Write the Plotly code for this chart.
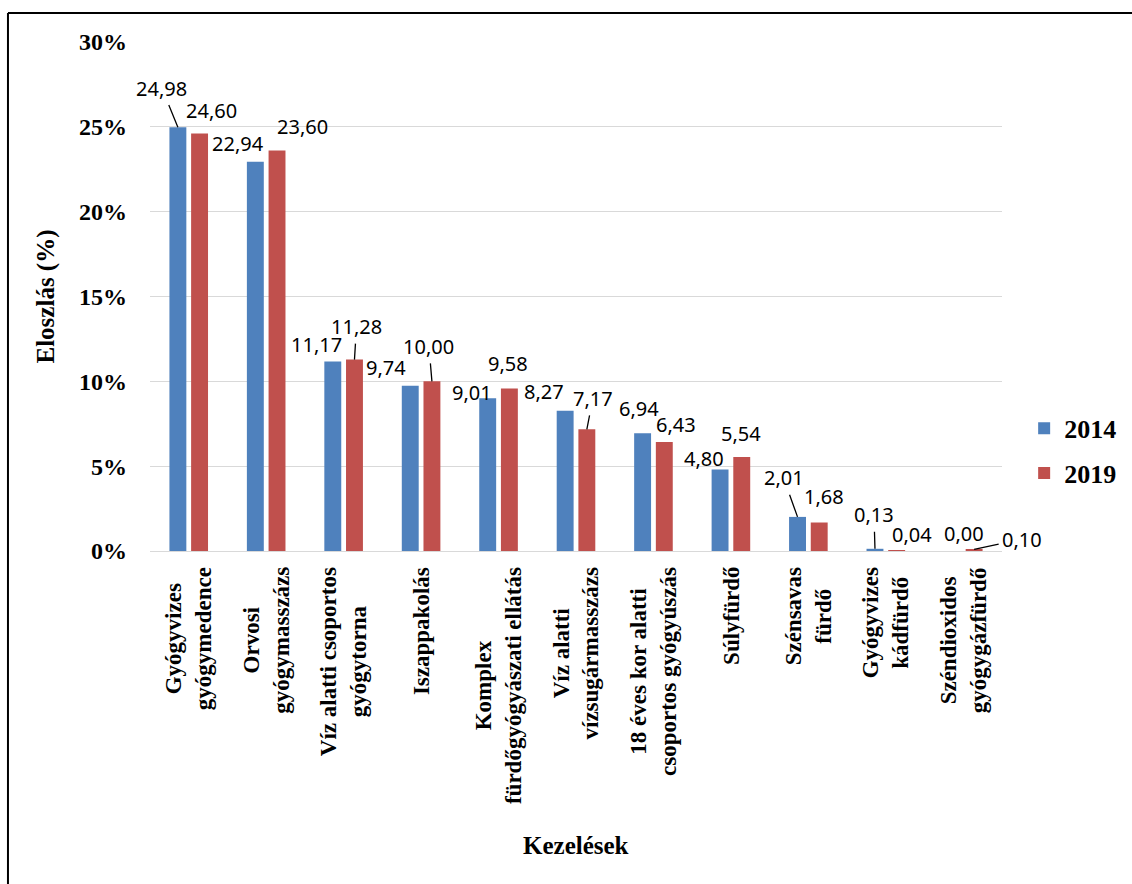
import plotly.graph_objects as go

# Treatment categories (two-line labels)
categories = [
    "Gyógyvizes<br>gyógymedence",
    "Orvosi<br>gyógymasszázs",
    "Víz alatti csoportos<br>gyógytorna",
    "Iszappakolás",
    "Komplex<br>fürdőgyógyászati ellátás",
    "Víz alatti<br>vízsugármasszázs",
    "18 éves kor alatti<br>csoportos gyógyúszás",
    "Súlyfürdő",
    "Szénsavas<br>fürdő",
    "Gyógyvizes<br>kádfürdő",
    "Széndioxidos<br>gyógygázfürdő",
]
years = ["2014", "2019"]
share_2014 = [24.98, 22.94, 11.17, 9.74, 9.01, 8.27, 6.94, 4.80, 2.01, 0.13, 0.00]
share_2019 = [24.60, 23.60, 11.28, 10.00, 9.58, 7.17, 6.43, 5.54, 1.68, 0.04, 0.10]
y_ticks = [0, 5, 10, 15, 20, 25, 30]
y_tick_labels = ["0%", "5%", "10%", "15%", "20%", "25%", "30%"]

series = [share_2014, share_2019]
colors = ["#4F81BD", "#C0504D"]

# Placement of the value labels (pixel offset from the top of each bar)
# and whether a leader line connects label and bar.
label_offsets = [
    [(-16, -39), (-17, -18), (-16, -17), (-24, -18), (-16, -6), (-21, -19),
     (-4, -25), (-16, -11), (-14, -39), (-1, -34), (12, -18)],
    [(12, -23), (25, -24), (2, -33), (-3, -35), (-1, -25), (6, -31),
     (12, -17), (-1, -24), (5, -26), (15, -16), (48, -10)],
]
leader = [
    [True, False, False, False, False, False, False, False, True, True, False],
    [False, False, True, True, False, True, False, False, False, False, True],
]

SERIF = "Liberation Serif"
LABEL_FONT = dict(family="Noto Sans", size=20, color="#000000")
BAR_SHIFT = 0.14  # half the distance between the two bars of a group

fig = go.Figure()
for name, vals, col in zip(years, series, colors):
    fig.add_trace(go.Bar(
        name=name,
        x=categories,
        y=vals,
        marker=dict(color=col, line=dict(width=0)),
        legendgroup=name,
    ))

annotations = []
for s, vals in enumerate(series):
    shift = -BAR_SHIFT if s == 0 else BAR_SHIFT
    for i, v in enumerate(vals):
        dx, dy = label_offsets[s][i]
        text = f"{v:.2f}".replace(".", ",")
        if leader[s][i]:
            annotations.append(dict(
                x=i + shift, y=v, xref="x", yref="y", text=text,
                showarrow=True, arrowhead=0, arrowwidth=1.3, arrowcolor="#000000",
                ax=dx, ay=dy, standoff=0, startstandoff=2, font=LABEL_FONT,
            ))
        else:
            annotations.append(dict(
                x=i + shift, y=v, xref="x", yref="y", text=text,
                showarrow=False, xshift=dx, yshift=-dy,
                xanchor="center", yanchor="middle", font=LABEL_FONT,
            ))

# Rotated, centre-aligned category labels under the axis
for i, cat in enumerate(categories):
    annotations.append(dict(
        x=i, y=0, xref="x", yref="paper", text=cat, textangle=-90,
        xanchor="center", yanchor="top", yshift=-14, align="center",
        showarrow=False, font=dict(family=SERIF, size=23, color="#000000", weight="bold"),
    ))

# Horizontal axis title
annotations.append(dict(
    x=0.5, y=-0.578, xref="paper", yref="paper", text="Kezelések",
    showarrow=False, xanchor="center", yanchor="middle",
    font=dict(family=SERIF, size=25, color="#000000", weight="bold"),
))

fig.update_layout(
    width=1132, height=884,
    margin=dict(l=150, r=130, t=42, b=333, autoexpand=False),
    paper_bgcolor="white", plot_bgcolor="white",
    barmode="group", bargap=0.44, bargroupgap=0.22,
    showlegend=True,
    legend=dict(
        x=1.026, xanchor="left", y=0.287, yanchor="top",
        font=dict(family=SERIF, size=26, color="#000000", weight="bold"),
        bgcolor="rgba(0,0,0,0)", traceorder="grouped", tracegroupgap=8,
    ),
    xaxis=dict(range=[-0.5, len(categories) - 0.5], autorange=False,
               showticklabels=False, showgrid=False, showline=False, ticks=""),
    yaxis=dict(
        range=[0, 30], autorange=False, tickmode="array",
        tickvals=y_ticks, ticktext=y_tick_labels,
        tickfont=dict(family=SERIF, size=24, color="#000000", weight="bold"),
        ticklabelstandoff=22,
        showgrid=True, gridcolor="#D9D9D9", gridwidth=1.3,
        zeroline=True, zerolinecolor="#D9D9D9", zerolinewidth=1.3,
        showline=False,
        title=dict(text="Eloszlás (%)", standoff=17,
                   font=dict(family=SERIF, size=25, color="#000000", weight="bold")),
    ),
    annotations=annotations,
    shapes=[
        dict(type="line", xref="paper", yref="paper", x0=-0.1667, x1=1.2,
             y0=1.057, y1=1.057, line=dict(color="#000000", width=2)),
        dict(type="line", xref="paper", yref="paper", x0=-0.1667, x1=-0.1667,
             y0=1.057, y1=-0.7, line=dict(color="#000000", width=2)),
    ],
)

fig.write_html("out.html")
